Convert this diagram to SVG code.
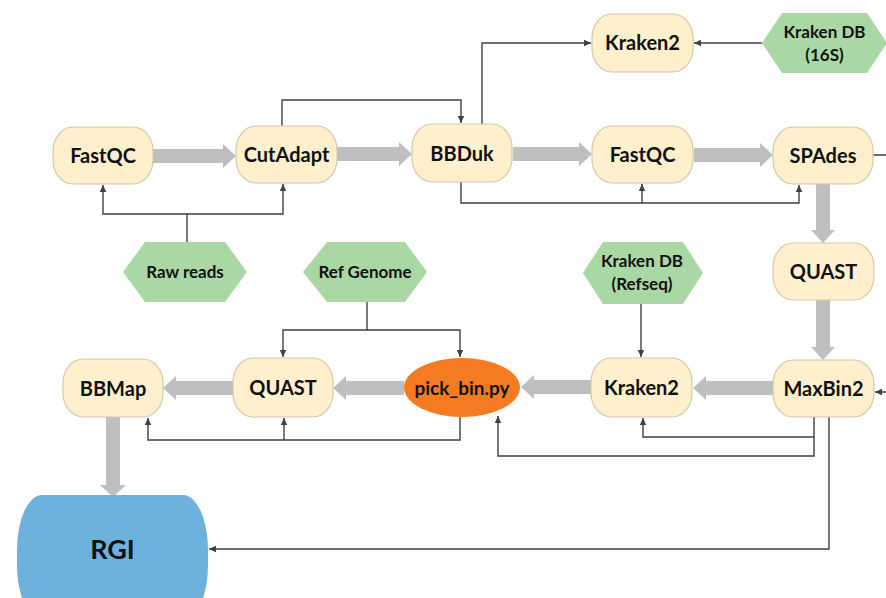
<svg xmlns="http://www.w3.org/2000/svg" width="886" height="598" viewBox="0 0 886 598">
<defs>
<marker id="ah" markerWidth="8" markerHeight="8" refX="7" refY="4" orient="auto" markerUnits="userSpaceOnUse">
<path d="M0,0.8 L7,4 L0,7.2 Z" fill="#404040"/>
</marker>
<style>
.n{fill:#FEF0CD;stroke:#D6C8A6;stroke-width:1.2}
.h{fill:#A9D8A5;stroke:none}
.t{font-family:Lato,"Liberation Sans",sans-serif;font-weight:bold;font-size:20px;fill:#111;text-anchor:middle}
.ht{font-family:Lato,"Liberation Sans",sans-serif;font-weight:bold;font-size:17px;fill:#111;text-anchor:middle}
.c{fill:none;stroke:#404040;stroke-width:1.4}
.ca{fill:none;stroke:#404040;stroke-width:1.4;marker-end:url(#ah)}
.f{fill:#BFBFBF;stroke:none}
</style>
</defs>
<rect width="886" height="598" fill="#fff"/>

<g id="connectors">
<!-- fat arrows -->
<polygon class="f" points="153,149 223,149 223,144 236,156 223,168 223,163 153,163"/>
<polygon class="f" points="337,147 399,147 399,142 412,154 399,166 399,161 337,161"/>
<polygon class="f" points="513,147 579,147 579,142 592,154 579,166 579,161 513,161"/>
<polygon class="f" points="694,148 760,148 760,143 773,155 760,167 760,162 694,162"/>
<polygon class="f" points="816,184 816,230 811,230 823,243 835,230 830,230 830,184"/>
<polygon class="f" points="816,300 816,347 811,347 823,360 835,347 830,347 830,300"/>
<polygon class="f" points="773,381 706,381 706,376 693,388 706,400 706,395 773,395"/>
<polygon class="f" points="591,380 534,380 534,375 521,387 534,399 534,394 591,394"/>
<polygon class="f" points="404,381 346,381 346,376 333,388 346,400 346,395 404,395"/>
<polygon class="f" points="233,381 176,381 176,376 163,388 176,400 176,395 233,395"/>
<polygon class="f" points="106,417 106,485 100,485 113,497 126,485 120,485 120,417"/>
<!-- thin connectors -->
<path class="ca" d="M187,242 V214 H103 V185"/>
<path class="ca" d="M187,214 H283 V184"/>
<path class="ca" d="M282,126 V100 H461 V123"/>
<path class="ca" d="M482,124 V43 H591"/>
<path class="ca" d="M762,43 H694"/>
<path class="ca" d="M461,182 V203 H799 V185"/>
<path class="ca" d="M642,203 V184"/>
<path class="ca" d="M873,155 H893 V392 H875"/>
<path class="ca" d="M641,304 V357"/>
<path class="ca" d="M367,302 V330 H283 V357"/>
<path class="ca" d="M367,330 H460 V357"/>
<path class="ca" d="M460,417 V440 H148 V418"/>
<path class="ca" d="M284,440 V418"/>
<path class="ca" d="M814,417 V456 H498 V416"/>
<path class="ca" d="M814,437 H643 V418"/>
<path class="ca" d="M829,417 V549 H209"/>
</g>

<g id="fastqc1"><rect class="n" x="53" y="127" width="100" height="57" rx="20" ry="24"/><text class="t" x="103" y="163">FastQC</text></g>
<g id="cutadapt"><rect class="n" x="236" y="126" width="101" height="57" rx="20" ry="24"/><text class="t" x="286.5" y="162">CutAdapt</text></g>
<g id="bbduk"><rect class="n" x="412" y="124" width="100" height="58" rx="20" ry="24"/><text class="t" x="462" y="161">BBDuk</text></g>
<g id="fastqc2"><rect class="n" x="592" y="126" width="101" height="57" rx="20" ry="24"/><text class="t" x="642.5" y="162">FastQC</text></g>
<g id="spades"><rect class="n" x="773" y="127" width="100" height="57" rx="20" ry="24"/><text class="t" x="823" y="163">SPAdes</text></g>
<g id="kraken2-top"><rect class="n" x="592" y="14" width="101" height="58" rx="20" ry="24"/><text class="t" x="642.5" y="50">Kraken2</text></g>
<g id="quast1"><rect class="n" x="773" y="243" width="101" height="57" rx="20" ry="24"/><text class="t" x="823.5" y="279">QUAST</text></g>
<g id="maxbin2"><rect class="n" x="773" y="360" width="101" height="57" rx="20" ry="24"/><text class="t" x="823.5" y="396">MaxBin2</text></g>
<g id="kraken2-bottom"><rect class="n" x="591" y="358" width="101" height="59" rx="20" ry="24"/><text class="t" x="641.5" y="395">Kraken2</text></g>
<g id="pickbin"><ellipse cx="462" cy="387.5" rx="58" ry="29.5" fill="#F47B22"/><text class="t" x="462" y="395" style="font-size:19px">pick_bin.py</text></g>
<g id="quast2"><rect class="n" x="233" y="358" width="100" height="59" rx="20" ry="24"/><text class="t" x="283" y="395">QUAST</text></g>
<g id="bbmap"><rect class="n" x="63" y="359" width="100" height="58" rx="20" ry="24"/><text class="t" x="113" y="396">BBMap</text></g>
<g id="rgi"><rect x="17" y="495" width="191" height="125" rx="25" ry="55" fill="#6DB1DD"/><text class="t" x="112.5" y="559" style="font-size:27px">RGI</text></g>

<g id="raw-reads"><polygon class="h" points="123,272 145,242 225,242 247,272 225,302 145,302"/><text class="ht" x="185" y="278">Raw reads</text></g>
<g id="ref-genome"><polygon class="h" points="303,272 327,242 405,242 427,272 405,302 327,302"/><text class="ht" x="365" y="278">Ref Genome</text></g>
<g id="krakendb-refseq"><polygon class="h" points="583,273 603,242 683,242 703,273 683,304 603,304"/><text class="ht" x="642" y="267">Kraken DB</text><text class="ht" x="642" y="290">(Refseq)</text></g>
<g id="krakendb-16s"><polygon class="h" points="762,43 782,13 867,13 887,43 867,73 782,73"/><text class="ht" x="824.5" y="38">Kraken DB</text><text class="ht" x="824.5" y="61">(16S)</text></g>
</svg>
